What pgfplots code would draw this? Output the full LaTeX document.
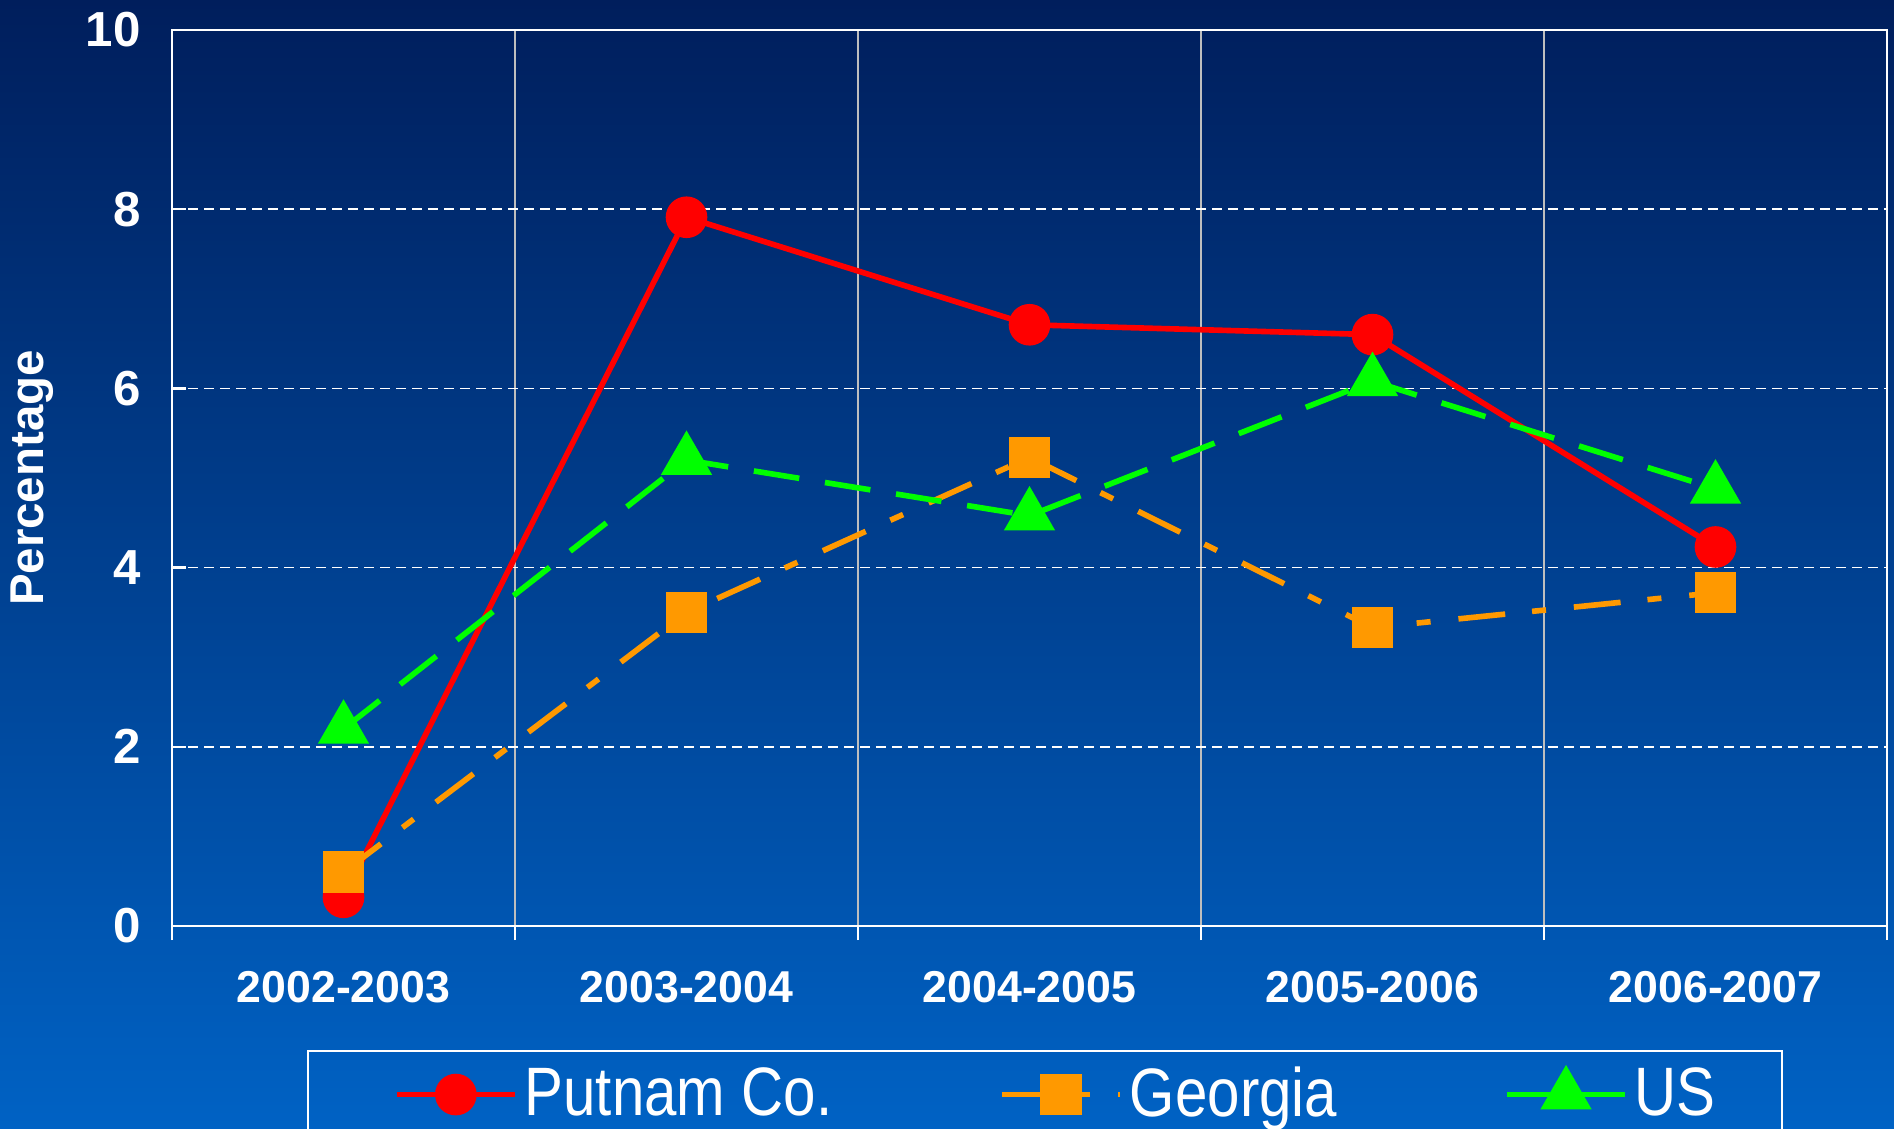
\documentclass[border=0pt]{standalone}
\usepackage{fontspec}
\setmainfont{Liberation Sans}
\newfontfamily\narrowfont[FakeStretch=0.85]{Liberation Sans}
\usepackage{pgfplots}
\pgfplotsset{compat=1.18}
\definecolor{bgtop}{RGB}{0,30,92}
\definecolor{bgbot}{RGB}{0,98,196}
\definecolor{pred}{RGB}{255,0,0}
\definecolor{porange}{RGB}{255,153,0}
\definecolor{pgreen}{RGB}{0,255,0}
\definecolor{silvergrid}{RGB}{190,190,190}
\begin{document}
\begin{tikzpicture}
\fill[top color=bgtop, bottom color=bgbot] (0,0) rectangle (18.94cm,11.29cm);
\begin{axis}[
  at={(1.72cm,2.03cm)}, anchor=south west,
  scale only axis, width=17.15cm, height=8.96cm,
  xmin=0, xmax=5, ymin=0, ymax=10,
  axis line style={white, line width=0.7pt},
  xtick={0,1,2,3,4,5}, xticklabels={},
  extra x ticks={0.5,1.5,2.5,3.5,4.5},
  extra x tick labels={2002-2003,2003-2004,2004-2005,2005-2006,2006-2007},
  extra x tick style={xmajorgrids=false, major tick length=0pt},
  xticklabel style={yshift=-3.3mm},
  ytick={0,2,4,6,8,10},
  xtick pos=left, ytick pos=left,
  xtick align=outside, ytick align=inside,
  major tick length=1.4mm,
  tick style={white, line width=0.7pt},
  xmajorgrids, ymajorgrids,
  x grid style={silvergrid, line width=0.6pt},
  y grid style={white, line width=0.45pt, dash pattern=on 1mm off 0.6mm},
  ticklabel style={text=white, font=\bfseries\fontsize{12.7pt}{15pt}\selectfont},
  /pgf/number format/assume math mode=true,
  yticklabel style={xshift=-1.9mm, font=\bfseries\fontsize{14pt}{16pt}\selectfont},
  ylabel={Percentage},
  ylabel style={text=white, font=\bfseries\fontsize{13.5pt}{16pt}\selectfont, at={(axis description cs:-0.0816,0.5)}, anchor=center},
  legend columns=3,
  legend style={at={(axis description cs:0.0787,-0.1384)}, anchor=north west,
    draw=white, line width=0.6pt, fill=none, text=white,
    font=\narrowfont\fontsize{19.5pt}{23pt}\selectfont,
    inner xsep=8.6mm, inner ysep=0.9mm,
    /tikz/every even column/.append style={column sep=16mm}},
  legend image code/.code={\draw[mark repeat=2, mark phase=2, #1] plot coordinates {(0cm,0cm) (0.59cm,0cm) (1.18cm,0cm)};},
]
\addplot[pred, line width=1.6pt, mark=*, mark size=1.8mm, mark options={solid}]
  coordinates {(0.5,0.32) (1.5,7.91) (2.5,6.71) (3.5,6.6) (4.5,4.23)};
\addlegendentry{Putnam Co.}
\addplot[porange, line width=1.6pt, dash pattern=on 4.7mm off 2.7mm on 1.4mm off 2.8mm, mark=square*, mark size=1.8mm, mark options={solid}]
  coordinates {(0.5,0.6) (1.5,3.5) (2.5,5.23) (3.5,3.33) (4.5,3.72)};
\addlegendentry{Georgia}
\addplot[pgreen, line width=1.6pt, dash pattern=on 4.6mm off 2.6mm, mark=triangle*, mark size=2.4mm, mark options={solid}]
  coordinates {(0.5,2.2) (1.5,5.2) (2.5,4.58) (3.5,6.08) (4.5,4.88)};
\addlegendentry{\makebox[5.4mm][l]{US}}
\end{axis}
\pgfresetboundingbox
\useasboundingbox (0,0) rectangle (18.94cm,11.29cm);
\end{tikzpicture}
\end{document}
